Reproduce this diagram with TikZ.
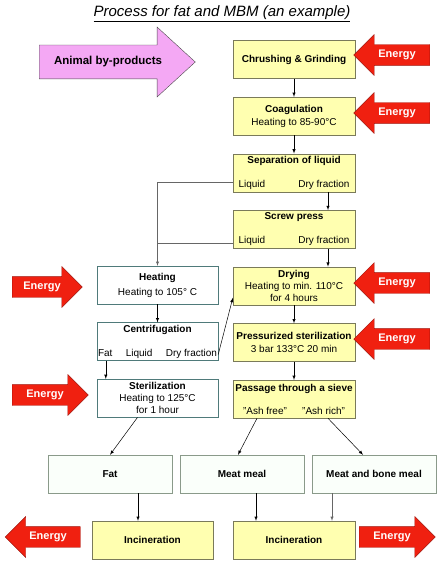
\documentclass[tikz,border=0pt]{standalone}
\usepackage{fontspec}
\setmainfont{Liberation Sans}
\usepackage{tikz}
\usetikzlibrary{shapes,arrows}

\definecolor{procfill}{HTML}{FFFFB0}
\definecolor{procdraw}{HTML}{7A7A5A}
\definecolor{sidedraw}{HTML}{4F7A7A}
\definecolor{proddraw}{HTML}{8A9A8A}
\definecolor{energyfill}{HTML}{F02010}
\definecolor{energydraw}{HTML}{A01008}
\definecolor{inputfill}{HTML}{F4A8F4}

\tikzstyle{process}=[rectangle,
	draw=procdraw,
	fill=procfill,
	minimum width=122pt,
	minimum height=38pt,
	align=center,
	inner sep=1pt]
\tikzstyle{side}=[rectangle,
	draw=sidedraw,
	fill=white,
	minimum width=121pt,
	minimum height=38pt,
	align=center,
	inner sep=1pt]
\tikzstyle{product}=[rectangle,
	draw=proddraw,
	fill=green!2,
	minimum width=124pt,
	minimum height=38pt,
	font=\fontsize{10}{12}\selectfont\bfseries]
\tikzstyle{energy}=[single arrow,
	draw=energydraw,
	fill=energyfill,
	text=white,
	font=\fontsize{11}{13}\selectfont\bfseries,
	single arrow head extend=10pt,
	text height=8pt,
	text depth=2.5pt,
	inner ysep=5pt,
	inner xsep=2pt,
	minimum height=76pt]
\tikzstyle{flow}=[-latex, line width=0.5pt]
\tikzstyle{liquid}=[line width=0.5pt, draw=black!60]

\begin{document}
\begin{tikzpicture}[x=1pt, y=-1pt, node distance=56.6pt, font=\fontsize{10}{12}\selectfont]
	\useasboundingbox (0,0) rectangle (444,567);

	\node (title) at (222,14) {\fontsize{15}{17}\selectfont\itshape\underline{Process for fat and MBM (an example)}};
	\node (byprod) [single arrow, draw=black!70, fill=inputfill, font=\fontsize{11.5}{13}\selectfont\bfseries,
		minimum height=156pt, single arrow head extend=18pt, single arrow tip angle=85,
		text height=8.5pt, text depth=3pt, inner ysep=11pt] at (108,62) {Animal by-products};

	% main line
	\node (crush) [process] at (294,59.5) {\textbf{Chrushing \& Grinding}};
	\node (coag) [process, below of=crush] {\textbf{Coagulation}\\[1pt]Heating to 85-90°C};
	\node (sep) [process, below of=coag] {\textbf{Separation of liquid}\\[12pt]\makebox[111pt]{Liquid\hfill Dry fraction}};
	\node (screw) [process, below of=sep] {\textbf{Screw press}\\[12pt]\makebox[111pt]{Liquid\hfill Dry fraction}};
	\node (dry) [process, below of=screw] {\textbf{Drying}\\Heating to min. 110°C\\for 4 hours};
	\node (press) [process, below of=dry] {\textbf{Pressurized sterilization}\\[1pt]3 bar 133°C 20 min};
	\node (sieve) [process, below of=press] {\textbf{Passage through a sieve}\\[11pt]\makebox[102pt]{"Ash free"\hfill"Ash rich"}};

	% liquid line
	\node (heat) [side] at (157.5,285) {\textbf{Heating}\\[3pt]Heating to 105° C};
	\node (centri) [side, below of=heat] {\textbf{Centrifugation}\\[12pt]\makebox[119pt]{Fat\hfill Liquid\hfill Dry fraction}};
	\node (steril) [side, below of=centri] {\textbf{Sterilization}\\Heating to 125°C\\for 1 hour};

	% products
	\node (fat) [product] at (110,474) {Fat};
	\node (meat) [product] at (242,474) {Meat meal};
	\node (mbm) [product] at (374,474) {Meat and bone meal};
	\node (incfat) [process, minimum width=121pt] at (152.5,540) {\textbf{Incineration}};
	\node (incmeal) [process] at (294,540) {\textbf{Incineration}};

	% energy
	\node (encrush) [energy, shape border rotate=180] at (397,55) {Energy};
	\node (encoag) [energy, shape border rotate=180] at (397,113) {Energy};
	\node (endry) [energy, shape border rotate=180] at (397,283) {Energy};
	\node (enpress) [energy, shape border rotate=180] at (397,339) {Energy};
	\node (enheat) [energy, minimum height=70pt] at (42,287) {Energy};
	\node (ensteril) [energy] at (45,395) {Energy};
	\node (enfat) [energy, shape border rotate=180, minimum height=75pt] at (48,537) {Energy};
	\node (enmeal) [energy] at (392,537) {Energy};

	\coordinate (sepliq) at ([yshift=-9.5pt]sep.west);
	\coordinate (screwliq) at ([yshift=-14pt]screw.west);
	\coordinate (fatout) at ([xshift=28pt]fat.south);
	\coordinate (meatout) at ([xshift=14pt]meat.south);
	\coordinate (mbmout) at ([xshift=-42pt]mbm.south);

	\draw[flow] (crush) -- (coag);
	\draw[flow] (coag) -- (sep);
	\draw[flow] ([xshift=34pt]sep.south) -- ([xshift=34pt]screw.north);
	\draw[flow] ([xshift=34pt]screw.south) -- ([xshift=34pt]dry.north);
	\draw[flow] (dry) -- (press);
	\draw[flow] (press) -- (sieve);
	\draw[liquid, -latex] (sepliq) -| (heat.north);
	\draw[liquid] (screwliq) -- (heat.north |- screwliq);
	\draw[flow] (heat) -- (centri);
	\draw[flow] ([xshift=9pt]centri.south west) -- ([xshift=9pt]steril.north west);
	\draw[flow] ([yshift=-13pt]centri.east) -- ([yshift=-12pt]dry.west);
	\draw[flow] ([xshift=-20pt]steril.south) -- (fat.north);
	\draw[flow] ([xshift=-37pt]sieve.south) -- ([xshift=-4pt]meat.north);
	\draw[flow] ([xshift=34pt]sieve.south) -- ([xshift=-11pt]mbm.north);
	\draw[flow] (fatout) -- (fatout |- incfat.north);
	\draw[flow] (meatout) -- (meatout |- incmeal.north);
	\draw[liquid, -latex] (mbmout) -- (mbmout |- incmeal.north);
\end{tikzpicture}
\end{document}
